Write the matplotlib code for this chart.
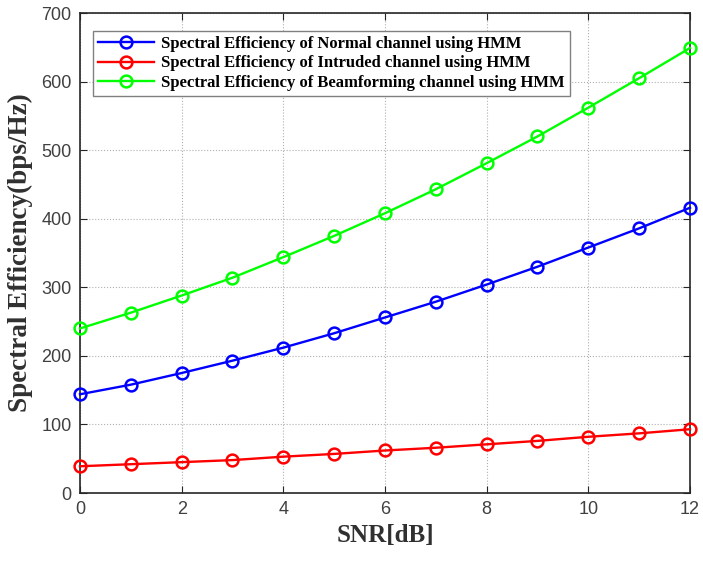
import matplotlib
matplotlib.use('Agg')
import numpy as np
from matplotlib import pyplot as plt

# SNR values (dB)
snr = [0, 1, 2, 3, 4, 5, 6, 7, 8, 9, 10, 11, 12]

# spectral efficiency values
se_normal = [144, 158, 175, 193, 212, 233, 256, 279, 304, 330, 358, 386, 416]
se_intruded = [39, 42, 45, 48, 53, 57, 62, 66, 71, 76, 82, 87, 93]
se_beamforming = [240, 263, 288, 314, 344, 375, 408, 443, 481, 520, 562, 605, 649]

labels = ['Spectral Efficiency of Normal channel using HMM',
          'Spectral Efficiency of Intruded channel using HMM',
          'Spectral Efficiency of Beamforming channel using HMM']
colors = ['#0000ff', '#ff0000', '#00ff00']

axis_gray = '#262626'
serif = ['Liberation Serif', 'DejaVu Serif']
sans = ['Liberation Sans', 'DejaVu Sans']


def main():
    fig = plt.figure(figsize=(7.03, 5.61), dpi=100)
    ax = fig.add_axes([0.1138, 0.1212, 0.8677, 0.8556])

    for vals, lab, col in zip([se_normal, se_intruded, se_beamforming], labels, colors):
        ax.plot(snr, vals, '-o', color=col, label=lab, linewidth=1.7,
                markersize=8.5, markerfacecolor='none', markeredgewidth=1.8,
                clip_on=False, zorder=3)

    ax.set_xlim(0, 12)
    ax.set_ylim(0, 700)
    ax.set_xticks(np.arange(0, 13, 2))
    ax.set_yticks(np.arange(0, 701, 100))
    ax.grid(True, linestyle=':', color='#b0b0b0', linewidth=0.8)
    ax.tick_params(direction='in', top=True, right=True, length=5,
                   labelsize=13, colors=axis_gray, labelcolor='#404040', pad=6)
    for t in ax.get_xticklabels() + ax.get_yticklabels():
        t.set_family(sans)
    for s in ax.spines.values():
        s.set_color(axis_gray)
        s.set_linewidth(1.2)

    ax.set_xlabel('SNR[dB]', fontsize=18, fontweight='bold', family=serif,
                  color='#303030', labelpad=4)
    ax.set_ylabel('Spectral Efficiency(bps/Hz)', fontsize=19.5, fontweight='bold',
                  family=serif, color='#303030', labelpad=6)

    leg = ax.legend(loc='upper left', bbox_to_anchor=(0.021, 0.9625),
                    borderaxespad=0,
                    prop={'family': serif, 'weight': 'bold', 'size': 12},
                    handlelength=3.4, handletextpad=0.4, labelspacing=0.2,
                    borderpad=0.3, fancybox=False, framealpha=1)
    leg.get_frame().set_edgecolor('#808080')
    leg.get_frame().set_linewidth(1.0)

    plt.savefig('out.png', dpi=100)
    plt.close()


if __name__ == '__main__':
    main()
